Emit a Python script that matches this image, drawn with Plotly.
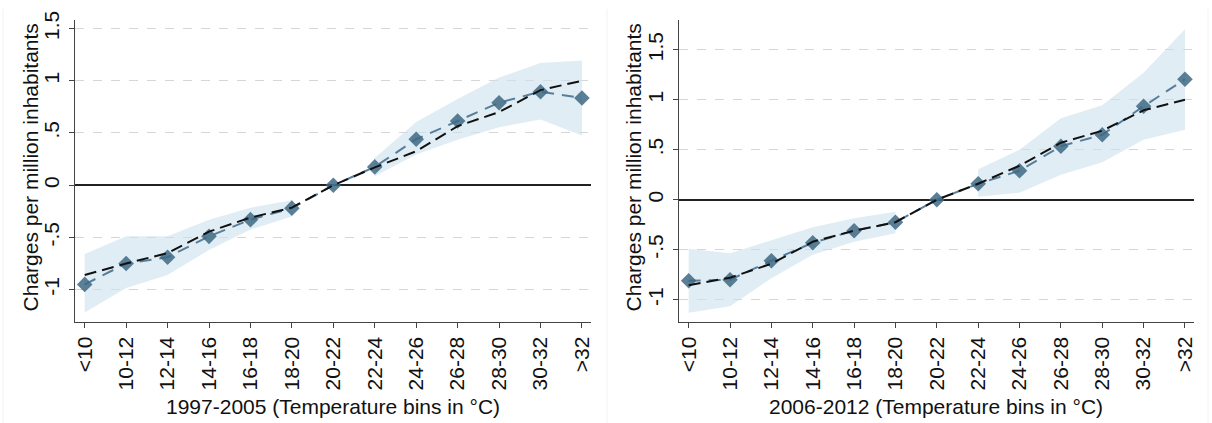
import plotly.graph_objects as go

# Temperature bins (°C)
bins = ["<10", "10-12", "12-14", "14-16", "16-18", "18-20", "20-22",
        "22-24", "24-26", "26-28", "28-30", "30-32", ">32"]

# 1997-2005: bin estimates, fitted curve, 95% CI (reference bin 20-22 has no CI)
est_a = [-0.95, -0.75, -0.69, -0.49, -0.33, -0.22, 0.0,
         0.175, 0.44, 0.615, 0.79, 0.895, 0.835]
fit_a = [-0.86, -0.75, -0.65, -0.445, -0.31, -0.215, 0.0,
         0.17, 0.325, 0.565, 0.70, 0.91, 1.0]
hi_a = [-0.66, -0.49, -0.49, -0.33, -0.215, -0.145, None,
        0.26, 0.605, 0.825, 1.03, 1.17, 1.195]
lo_a = [-1.22, -0.985, -0.86, -0.62, -0.425, -0.30, None,
        0.085, 0.295, 0.435, 0.555, 0.63, 0.475]

# 2006-2012
est_b = [-0.81, -0.80, -0.61, -0.43, -0.31, -0.225, 0.0,
         0.16, 0.29, 0.535, 0.65, 0.935, 1.205]
fit_b = [-0.855, -0.78, -0.64, -0.42, -0.31, -0.225, 0.0,
         0.16, 0.34, 0.57, 0.69, 0.895, 1.0]
hi_b = [-0.49, -0.535, -0.405, -0.275, -0.185, -0.12, None,
        0.305, 0.50, 0.815, 0.945, 1.27, 1.705]
lo_b = [-1.13, -1.065, -0.785, -0.55, -0.42, -0.335, None,
        0.03, 0.07, 0.25, 0.375, 0.60, 0.70]

ytick_vals = [-1, -0.5, 0, 0.5, 1, 1.5]
ytick_text = ["-1", "-.5", "0", ".5", "1", "1.5"]

x_titles = ["1997-2005 (Temperature bins in °C)", "2006-2012 (Temperature bins in °C)"]
y_title = "Charges per million inhabitants"

FONT = "Liberation Sans, Arial, Helvetica, sans-serif"
FS = 21
BAND = "rgba(205,226,238,0.62)"
BLUE = "#577f9b"
MARK = "rgba(62,104,132,0.85)"

W, H = 1212, 423
panels = [
    dict(est=est_a, fit=fit_a, hi=hi_a, lo=lo_a, x0=73, x1=591, yr=[-1.312, 1.584]),
    dict(est=est_b, fit=fit_b, hi=hi_b, lo=lo_b, x0=679, x1=1196, yr=[-1.225, 1.80]),
]
top_px, bot_px = 11, 320

fig = go.Figure()
idx = list(range(len(bins)))

for p_i, p in enumerate(panels):
    xa = "x" if p_i == 0 else "x2"
    ya = "y" if p_i == 0 else "y2"
    # CI band, drawn in two pieces around the omitted reference bin
    for seg in (range(0, 6), range(7, 13)):
        xs = [idx[i] for i in seg]
        fig.add_trace(go.Scatter(x=xs, y=[p["lo"][i] for i in seg], mode="lines",
                                 line=dict(width=0, color=BAND), xaxis=xa, yaxis=ya,
                                 showlegend=False, hoverinfo="skip"))
        fig.add_trace(go.Scatter(x=xs, y=[p["hi"][i] for i in seg], mode="lines",
                                 line=dict(width=0, color=BAND), fill="tonexty",
                                 fillcolor=BAND, xaxis=xa, yaxis=ya,
                                 showlegend=False, hoverinfo="skip"))
    # bin estimates
    fig.add_trace(go.Scatter(x=idx, y=p["est"], mode="lines+markers",
                             line=dict(color=BLUE, width=2, dash="12px,8px"),
                             marker=dict(symbol="diamond", size=12, color=MARK,
                                         line=dict(width=0)),
                             xaxis=xa, yaxis=ya, showlegend=False))
    # fitted curve
    fig.add_trace(go.Scatter(x=idx, y=p["fit"], mode="lines",
                             line=dict(color="#111111", width=2, dash="12px,6px"),
                             xaxis=xa, yaxis=ya, showlegend=False))

def xdom(p):
    return [p["x0"] / W, p["x1"] / W]

ydom = [1 - bot_px / H, 1 - top_px / H]

axis_common = dict(showline=True, linecolor="#444444", linewidth=1.2,
                   ticks="outside", ticklen=5, tickcolor="#444444", tickwidth=1,
                   tickfont=dict(family=FONT, size=FS, color="#111111"),
                   tickangle=-90)

for p_i, p in enumerate(panels):
    sfx = "" if p_i == 0 else "2"
    fig.layout["xaxis" + sfx] = dict(
        axis_common, domain=xdom(p), range=[-0.24, 12.22], anchor="y" + sfx,
        tickmode="array", tickvals=idx, ticktext=bins, showgrid=False,
        zeroline=False)
    fig.layout["yaxis" + sfx] = dict(
        axis_common, domain=ydom, range=p["yr"], anchor="x" + sfx,
        tickmode="array", tickvals=ytick_vals, ticktext=ytick_text,
        showgrid=True, gridcolor="#d6d6d6", gridwidth=1, griddash="dash",
        zeroline=True, zerolinecolor="#222222", zerolinewidth=1.5,
        ticklabelstandoff=1)

annotations = []
for p_i, p in enumerate(panels):
    cx = (p["x0"] + p["x1"]) / 2 / W
    annotations.append(dict(text=x_titles[p_i], x=cx, y=1 - 406 / H, xref="paper",
                            yref="paper", showarrow=False, xanchor="center",
                            yanchor="middle",
                            font=dict(family=FONT, size=FS, color="#111111")))
    ty_x = (29 if p_i == 0 else 634) / W
    annotations.append(dict(text=y_title, x=ty_x, y=1 - 162 / H, xref="paper",
                            yref="paper", showarrow=False, textangle=-90,
                            xanchor="center", yanchor="middle",
                            font=dict(family=FONT, size=FS, color="#111111")))

# faint frame lines around each graph region
shapes = []
for xp in (1, 607, 1210):
    shapes.append(dict(type="line", xref="paper", yref="paper", x0=xp / W, x1=xp / W,
                       y0=0, y1=1, line=dict(color="#f2f2f2", width=1)))

fig.update_layout(width=W, height=H, margin=dict(l=0, r=0, t=0, b=0),
                  paper_bgcolor="white", plot_bgcolor="white",
                  annotations=annotations, shapes=shapes,
                  font=dict(family=FONT))

fig.write_html("out.html")
